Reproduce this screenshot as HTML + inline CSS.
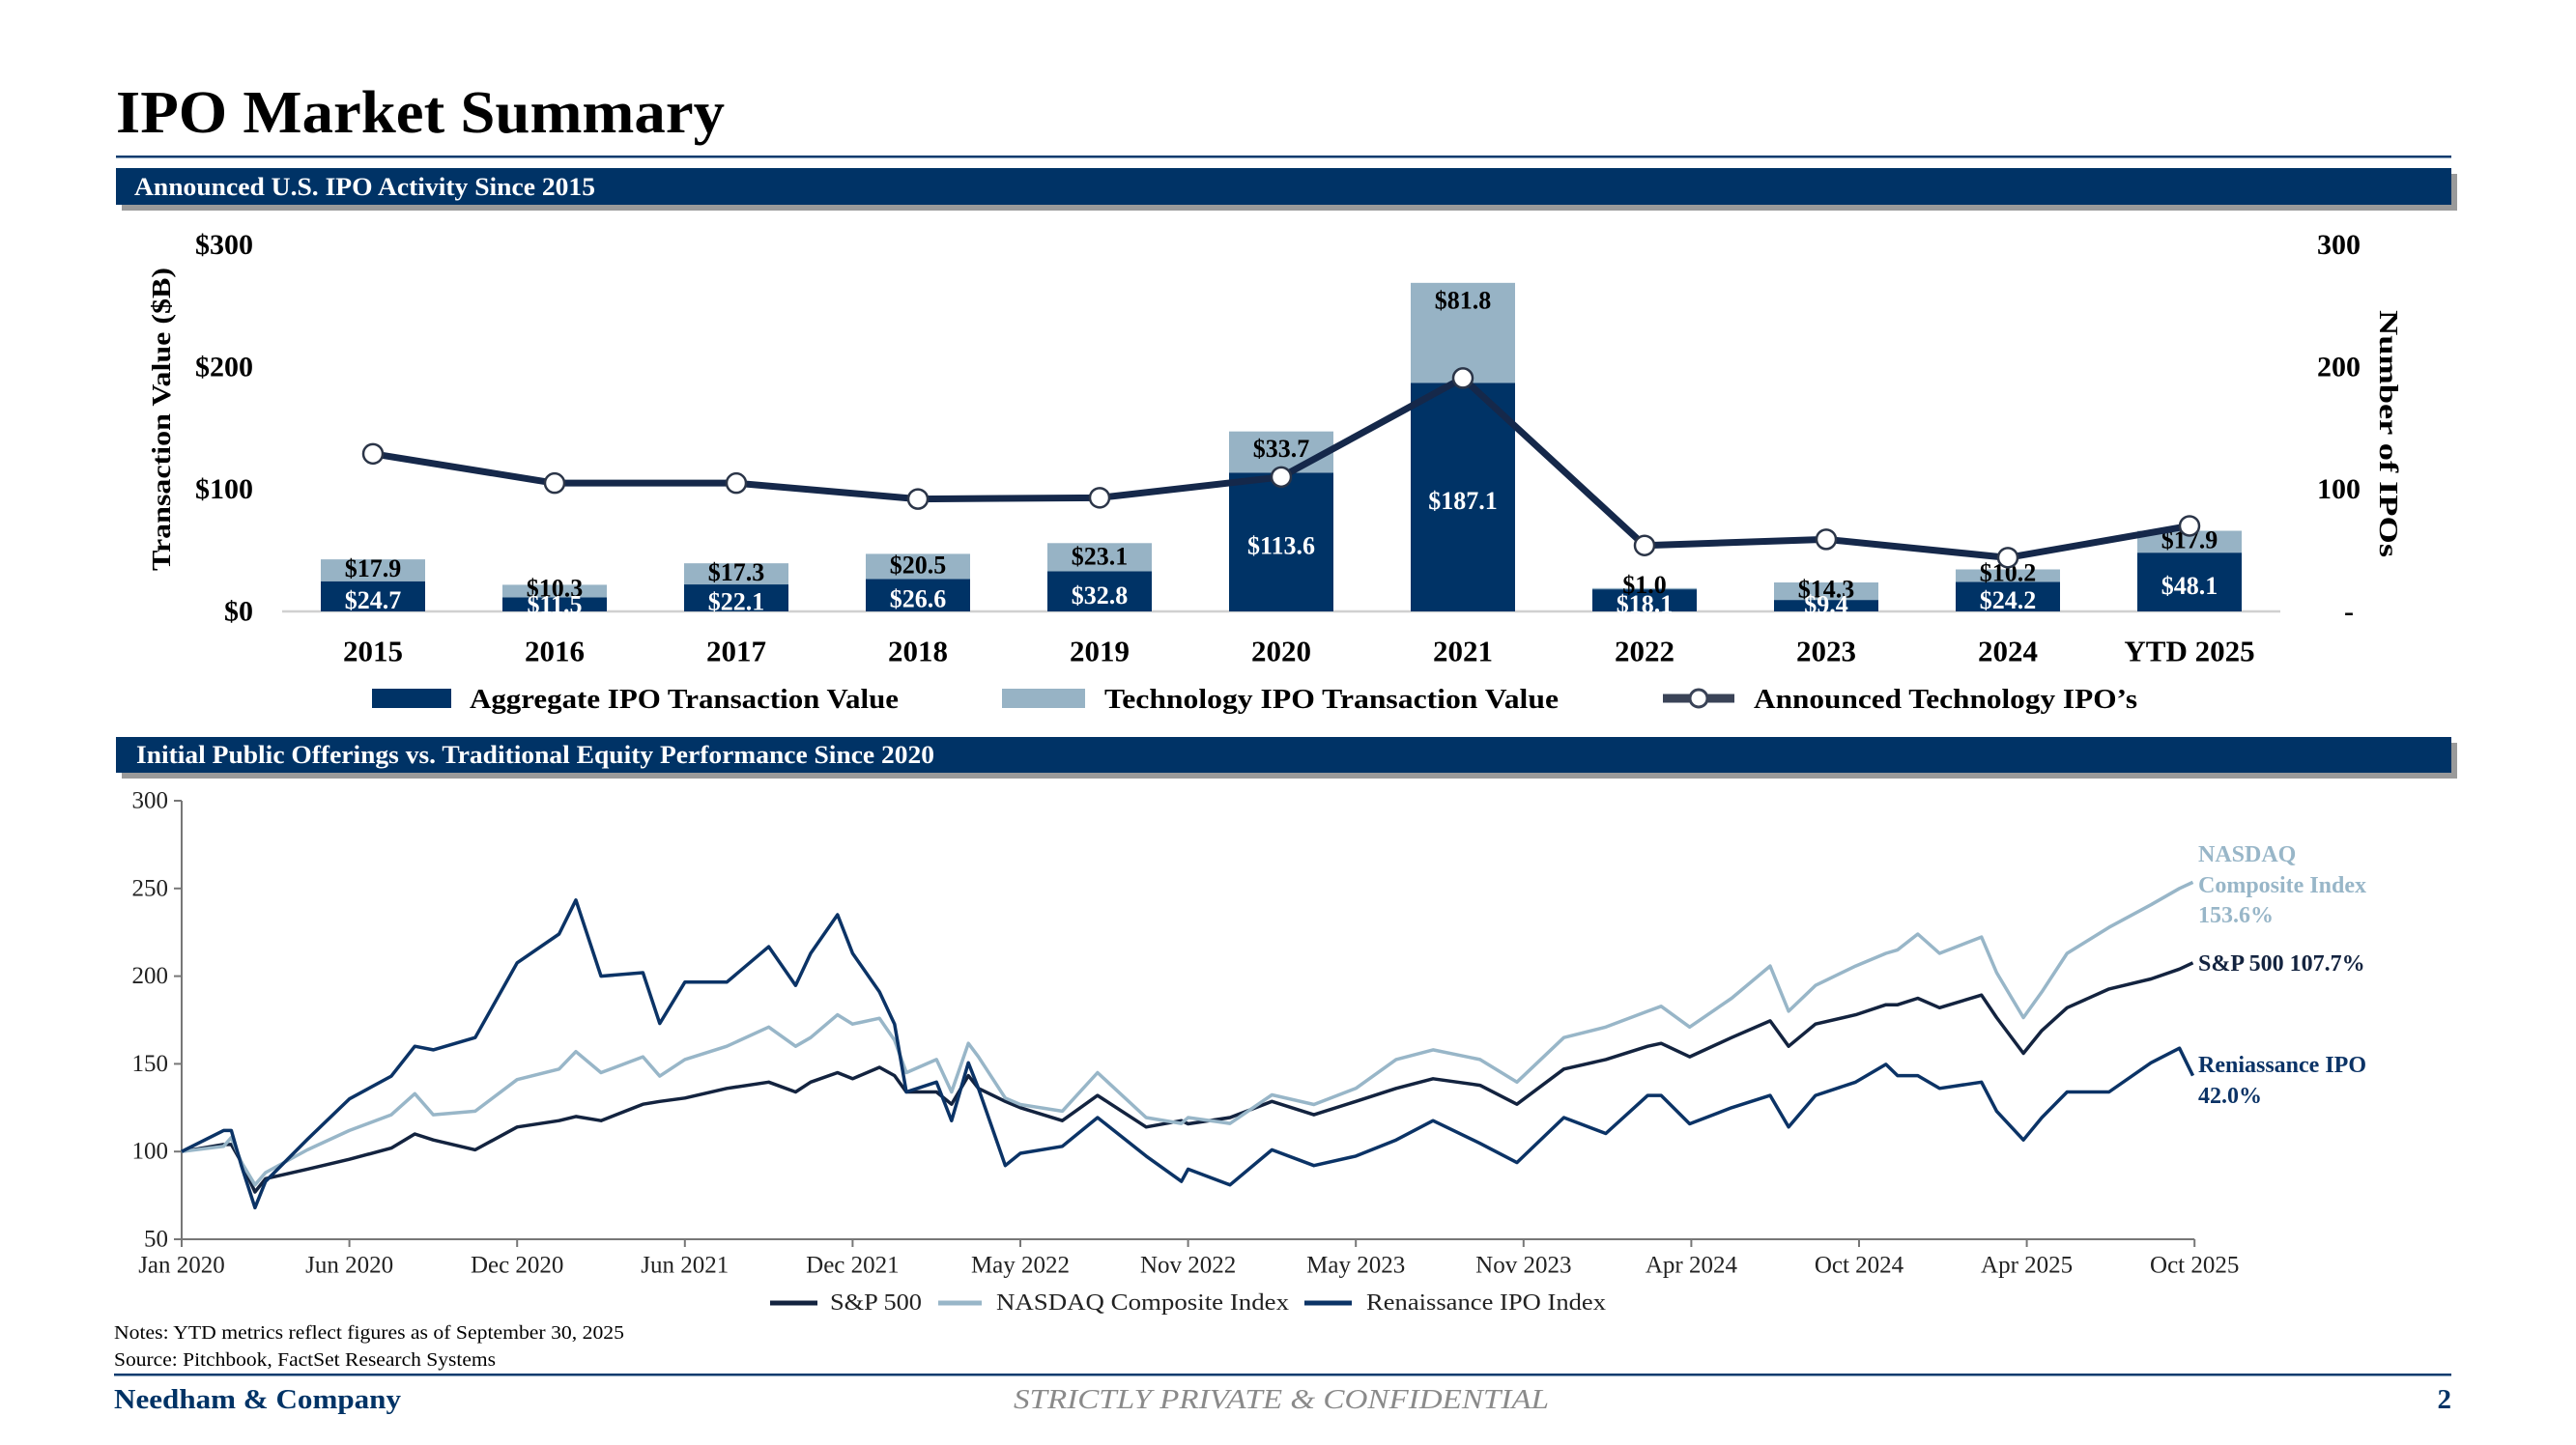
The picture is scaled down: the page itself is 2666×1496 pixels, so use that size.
<!DOCTYPE html>
<html><head><meta charset="utf-8"><style>
html,body{margin:0;padding:0;background:#fff;}
svg{display:block;font-family:"Liberation Serif",serif;}
</style></head><body>
<svg id="page" width="2666" height="1496" viewBox="0 0 2666 1496" xmlns="http://www.w3.org/2000/svg">
  <text x="120" y="137" font-size="62" font-weight="bold" fill="#000" textLength="630" lengthAdjust="spacingAndGlyphs">IPO Market Summary</text>
  <rect x="120" y="161" width="2417" height="2.5" fill="#0b3b6e"/>
  <rect x="126" y="180" width="2417" height="38" fill="#9a9a9a"/>
  <rect x="120" y="174" width="2417" height="38" fill="#003366"/>
  <text x="139" y="202" font-size="26" font-weight="bold" fill="#fff" textLength="477" lengthAdjust="spacingAndGlyphs">Announced U.S. IPO Activity Since 2015</text>
  <g id="chart1"></g>
  <rect x="126" y="769" width="2417" height="37" fill="#9a9a9a"/>
  <rect x="120" y="763" width="2417" height="37" fill="#003366"/>
  <text x="141" y="790" font-size="26" font-weight="bold" fill="#fff" textLength="826" lengthAdjust="spacingAndGlyphs">Initial Public Offerings vs. Traditional Equity Performance Since 2020</text>
  <g id="chart2"></g>
  <text x="118" y="1386" font-size="20" fill="#000" textLength="528" lengthAdjust="spacingAndGlyphs">Notes: YTD metrics reflect figures as of September 30, 2025</text>
  <text x="118" y="1414" font-size="20" fill="#000" textLength="395" lengthAdjust="spacingAndGlyphs">Source: Pitchbook, FactSet Research Systems</text>
  <rect x="118" y="1422" width="2419" height="2.5" fill="#0b3b6e"/>
  <text x="118" y="1458" font-size="29" font-weight="bold" fill="#003366" textLength="297" lengthAdjust="spacingAndGlyphs">Needham &amp; Company</text>
  <text x="1049" y="1458" font-size="29" font-style="italic" fill="#8a8a8a" textLength="554" lengthAdjust="spacingAndGlyphs">STRICTLY PRIVATE &amp; CONFIDENTIAL</text>
  <text x="2537" y="1458" font-size="29" font-weight="bold" fill="#003366" text-anchor="end">2</text>
</svg>
<script>
// ---- Chart 1 data ----
const years = ["2015","2016","2017","2018","2019","2020","2021","2022","2023","2024","YTD 2025"];
const aggregateValues = [24.7,11.5,22.1,26.6,32.8,113.6,187.1,18.1,9.4,24.2,48.1];
const techValues = [17.9,10.3,17.3,20.5,23.1,33.7,81.8,1.0,14.3,10.2,17.9];
const ipoCounts = [129,105,105,92,93,110,191,54,59,44,70];
const leftTicks = [0,100,200,300];
const leftTickLabels = ["$0","$100","$200","$300"];
const rightTickLabels = ["-","100","200","300"];

// ---- Chart 2 data ----
const tickLabels2 = ["Jan 2020","Jun 2020","Dec 2020","Jun 2021","Dec 2021","May 2022","Nov 2022","May 2023","Nov 2023","Apr 2024","Oct 2024","Apr 2025","Oct 2025"];
const yTicks2 = [50,100,150,200,250,300];
const timeIdx = [0,0.25,0.296,0.356,0.437,0.5,0.75,1,1.25,1.39,1.5,1.75,2,2.25,2.35,2.5,2.75,2.85,3,3.25,3.5,3.66,3.75,3.91,4,4.16,4.25,4.32,4.5,4.59,4.69,4.75,4.91,5,5.25,5.46,5.75,5.96,6,6.25,6.5,6.75,7,7.24,7.46,7.74,7.96,8.24,8.49,8.74,8.82,8.99,9.24,9.47,9.58,9.74,9.98,10.16,10.23,10.35,10.48,10.73,10.82,10.98,11.09,11.24,11.49,11.74,11.91,11.99];
const renValues = [100,112,112,92,68,83,107,130,143,160,158,165,207.6,224,243.4,200,202,173,196.6,196.6,216.8,194.7,213,235,213,191,172.7,134,139.6,117.6,150.6,136,92,99,103,119.4,97.4,83,90,81,101,92,97.4,106.6,117.6,104.7,93.7,119.4,110.3,132,132,115.8,125,132,114,132,139.6,149.7,143.3,143.3,136,139.6,123,106.6,119.4,134,134,150.6,158.9,143.3];
const spValues = [100,104,104,94,77,84.5,90,95.6,102,110,106.6,101,114,117.6,120,117.6,127,128.6,130.5,136,139.6,134,139.6,145,141.5,148,143.3,134,134,127,143.3,136,128.6,125,117.6,132,114,117.6,115.8,119.4,128.6,121,128.6,136,141.5,137.8,127,147,152.5,160,161.7,154,165,174.5,160,172.7,178,183.7,183.7,187.4,182,189.2,176.4,156,169,182,192.7,198.4,204,207.6];
const nasValues = [100,103,108,94,81,88,101,112,121,133,121,123,141,147,157,145,154,143,152.5,160,171,160,165,178,172.7,176,163.5,145,152.5,134,161.7,154,130.5,126.8,123,145,119.4,116,119.4,116,132.3,126.8,136,152.5,158,152.5,139.6,165,171,180,182.8,171,187.4,205.8,180,194.7,205.8,213,215,224,213,222.3,202,176.4,191,213,227.8,240.7,250,253.5];

const NS = "http://www.w3.org/2000/svg";
function mk(parent, tag, attrs, text) {
  const e = document.createElementNS(NS, tag);
  for (const k in attrs) e.setAttribute(k, attrs[k]);
  if (text !== undefined) e.textContent = text;
  parent.appendChild(e);
  return e;
}

// ===== Chart 1 =====
(function(){
  const g = document.getElementById('chart1');
  const y0 = 633, k = 1.265;
  const yL = v => y0 - v * k;
  const yR = v => y0 - v * k;
  const xC = i => 386 + i * 188;
  const bw = 108;
  const DARK = "#003366", LIGHT = "#97b3c5", LINE = "#15284a";

  leftTicks.forEach((t, i) => {
    const el = mk(g, 'text', {x: 262, y: yL(t), 'font-size': 30, 'font-weight': 'bold', 'text-anchor': 'end', 'dominant-baseline': 'central', fill: '#000'}, leftTickLabels[i]);
    
    
    const er = mk(g, 'text', {x: rightTickLabels[i] === "-" ? 2431 : 2398, y: yR(t), 'font-size': 30, 'font-weight': 'bold', 'text-anchor': rightTickLabels[i] === "-" ? 'middle' : 'start', 'dominant-baseline': 'central', fill: '#000'}, rightTickLabels[i]);
    
    
  });
  const lt = mk(g, 'text', {x: 0, y: 0, transform: 'translate(176,434) rotate(-90)', 'font-size': 27, 'font-weight': 'bold', 'text-anchor': 'middle', fill: '#000', textLength: 314, lengthAdjust: 'spacingAndGlyphs'}, "Transaction Value ($B)");
  
  
  const rt = mk(g, 'text', {x: 0, y: 0, transform: 'translate(2463,449) rotate(90)', 'font-size': 27, 'font-weight': 'bold', 'text-anchor': 'middle', fill: '#000', textLength: 256, lengthAdjust: 'spacingAndGlyphs'}, "Number of IPOs");
  
  

  const base = mk(g, 'line', {x1: 292, x2: 2360, y1: y0, y2: y0, stroke: '#d0d0d0', 'stroke-width': 2.5});
  
  

  years.forEach((yr, i) => {
    const a = aggregateValues[i], t = techValues[i];
    const x = xC(i) - bw / 2;
    const rd = mk(g, 'rect', {x: x, y: yL(a), width: bw, height: a * k, fill: DARK});
    
    
    const rl = mk(g, 'rect', {x: x, y: yL(a + t), width: bw, height: t * k, fill: LIGHT});
    
    
    const top = yL(a + t);
    const lh = t * k;
    const ly = top + Math.min(18, Math.max(-6, lh * 0.6 - 4));
    const tl = mk(g, 'text', {x: xC(i), y: ly, 'font-size': 26, 'font-weight': 'bold', 'text-anchor': 'middle', 'dominant-baseline': 'central', fill: '#000'}, '$' + t.toFixed(1));
    
    
    const dy = Math.min(y0 - a * k / 2 + 4, 626);
    const dl = mk(g, 'text', {x: xC(i), y: dy, 'font-size': 26, 'font-weight': 'bold', 'text-anchor': 'middle', 'dominant-baseline': 'central', fill: '#fff'}, '$' + a.toFixed(1));
    
    
    const xl = mk(g, 'text', {x: xC(i), y: 674, 'font-size': 31, 'font-weight': 'bold', 'text-anchor': 'middle', 'dominant-baseline': 'central', fill: '#000'}, yr);
    
    
  });

  const pts = ipoCounts.map((c, i) => xC(i) + ',' + yR(c)).join(' ');
  const pl = mk(g, 'polyline', {points: pts, fill: 'none', stroke: LINE, 'stroke-width': 7, 'stroke-linejoin': 'round'});
  
  
  ipoCounts.forEach((c, i) => {
    const m = mk(g, 'circle', {cx: xC(i), cy: yR(c), r: 10, fill: '#fff', stroke: '#2b3548', 'stroke-width': 2.5});
    
    
  });

  const l1 = mk(g, 'rect', {x: 385, y: 713, width: 82, height: 20, fill: DARK});
  
  
  const t1 = mk(g, 'text', {x: 486, y: 733, 'font-size': 28, 'font-weight': 'bold', fill: '#000', textLength: 444, lengthAdjust: 'spacingAndGlyphs'}, "Aggregate IPO Transaction Value");
  
  
  const l2 = mk(g, 'rect', {x: 1037, y: 713, width: 86, height: 20, fill: LIGHT});
  
  
  const t2 = mk(g, 'text', {x: 1143, y: 733, 'font-size': 28, 'font-weight': 'bold', fill: '#000', textLength: 470, lengthAdjust: 'spacingAndGlyphs'}, "Technology IPO Transaction Value");
  
  
  const l3 = mk(g, 'line', {x1: 1721, x2: 1795, y1: 723, y2: 723, stroke: '#3a4357', 'stroke-width': 9});
  
  
  const l3c = mk(g, 'circle', {cx: 1758, cy: 723, r: 9, fill: '#fff', stroke: '#3a4357', 'stroke-width': 3});
  
  
  const t3 = mk(g, 'text', {x: 1815, y: 733, 'font-size': 28, 'font-weight': 'bold', fill: '#000', textLength: 397, lengthAdjust: 'spacingAndGlyphs'}, "Announced Technology IPO\u2019s");
  
  
})();

// ===== Chart 2 =====
(function(){
  const g = document.getElementById('chart2');
  const xS = t => 188 + t * 173.6;
  const yS = v => 829 + (300 - v) * 1.816;
  const AX = "#777";
  const ya = mk(g, 'line', {x1: 188, x2: 188, y1: yS(300), y2: yS(50), stroke: AX, 'stroke-width': 2});
  
  
  const xa = mk(g, 'line', {x1: 188, x2: xS(12), y1: yS(50), y2: yS(50), stroke: AX, 'stroke-width': 2});
  
  
  yTicks2.forEach(v => {
    const tk = mk(g, 'line', {x1: 180, x2: 188, y1: yS(v), y2: yS(v), stroke: AX, 'stroke-width': 2});
    
    
    const tl = mk(g, 'text', {x: 174, y: yS(v), 'font-size': 25, 'text-anchor': 'end', 'dominant-baseline': 'central', fill: '#222'}, String(v));
    
    
  });
  tickLabels2.forEach((lab, i) => {
    const tk = mk(g, 'line', {x1: xS(i), x2: xS(i), y1: yS(50), y2: yS(50) + 8, stroke: AX, 'stroke-width': 2});
    
    
    const tl = mk(g, 'text', {x: xS(i), y: 1310, 'font-size': 25, 'text-anchor': 'middle', 'dominant-baseline': 'central', fill: '#222'}, lab);
    
    
  });
  function series(vals, color, name) {
    const d = vals.map((v, i) => (i ? 'L' : 'M') + xS(timeIdx[i]).toFixed(1) + ',' + yS(v).toFixed(1)).join(' ');
    const p = mk(g, 'path', {d: d, fill: 'none', stroke: color, 'stroke-width': 3.5, 'stroke-linejoin': 'round'});
    
    
  }
  series(spValues, '#13233f', 'sp500-line');
  series(nasValues, '#98b6c8', 'nasdaq-line');
  series(renValues, '#0b3366', 'renaissance-ipo-line');

  const labs = [
    ["NASDAQ", 885, '#98b6c8', 'nasdaq-end-label'],
    ["Composite Index", 917, '#98b6c8', 'nasdaq-end-label'],
    ["153.6%", 948, '#98b6c8', 'nasdaq-end-label'],
    ["S&P 500 107.7%", 998, '#13233f', 'sp500-end-label'],
    ["Reniassance IPO", 1103, '#0b3366', 'renaissance-end-label'],
    ["42.0%", 1135, '#0b3366', 'renaissance-end-label']
  ];
  labs.forEach(l => {
    const t = mk(g, 'text', {x: 2275, y: l[1], 'font-size': 24, 'font-weight': 'bold', 'dominant-baseline': 'central', fill: l[2]}, l[0]);
    
    
  });

  const leg = [
    [797, 846, 859, '#13233f', "S&P 500", 95, 'legend-sp500'],
    [971, 1016, 1031, '#98b6c8', "NASDAQ Composite Index", 303, 'legend-nasdaq'],
    [1350, 1399, 1414, '#0b3366', "Renaissance IPO Index", 248, 'legend-renaissance']
  ];
  leg.forEach(l => {
    const ln = mk(g, 'line', {x1: l[0], x2: l[1], y1: 1349, y2: 1349, stroke: l[3], 'stroke-width': 5});
    
    
    const t = mk(g, 'text', {x: l[2], y: 1349, 'font-size': 24, 'dominant-baseline': 'central', fill: '#222', textLength: l[5], lengthAdjust: 'spacingAndGlyphs'}, l[4]);
    
    
  });
})();
</script>
</body></html>
